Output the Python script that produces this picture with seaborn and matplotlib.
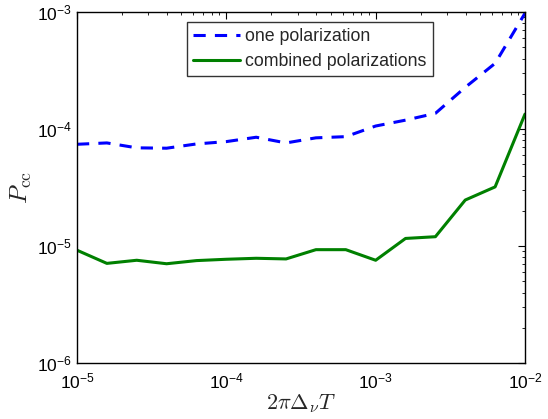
import numpy as np
import pandas as pd
import matplotlib
matplotlib.use("Agg")
import matplotlib.pyplot as plt
import seaborn as sns

x_vals = [1.0e-5, 1.585e-5, 2.512e-5, 3.981e-5, 6.310e-5, 1.0e-4, 1.585e-4, 2.512e-4,
          3.981e-4, 6.310e-4, 1.0e-3, 1.585e-3, 2.512e-3, 3.981e-3, 6.310e-3, 1.0e-2]
one_pol = [7.4e-5, 7.6e-5, 6.9e-5, 6.85e-5, 7.45e-5, 7.8e-5, 8.5e-5, 7.6e-5,
           8.4e-5, 8.6e-5, 1.06e-4, 1.19e-4, 1.36e-4, 2.27e-4, 3.64e-4, 9.75e-4]
comb_pol = [9.2e-6, 7.1e-6, 7.55e-6, 7.05e-6, 7.5e-6, 7.7e-6, 7.85e-6, 7.75e-6,
            9.3e-6, 9.3e-6, 7.55e-6, 1.16e-5, 1.2e-5, 2.47e-5, 3.2e-5, 1.34e-4]
series_names = ["one polarization", "combined polarizations"]

df = pd.DataFrame({
    "x": x_vals * 2,
    "y": one_pol + comb_pol,
    "series": [series_names[0]] * len(x_vals) + [series_names[1]] * len(x_vals),
})

sns.set_style("white")
plt.rcParams["font.family"] = ["Liberation Sans", "DejaVu Sans"]
plt.rcParams["mathtext.fontset"] = "cm"

fig = plt.figure(figsize=(5.48, 4.19), dpi=100)
ax = fig.add_axes([0.1405, 0.1337, 0.8175, 0.8377])

sns.lineplot(data=df[df.series == series_names[0]], x="x", y="y", ax=ax,
             color="#0000ff", linestyle="--", linewidth=2.2, label=series_names[0])
sns.lineplot(data=df[df.series == series_names[1]], x="x", y="y", ax=ax,
             color="#008000", linestyle="-", linewidth=2.2, label=series_names[1])
ax.lines[0].set_dashes([4, 3])

ax.set_xscale("log")
ax.set_yscale("log")
ax.set_xlim(1e-5, 1e-2)
ax.set_ylim(1e-6, 1e-3)

for s in ax.spines.values():
    s.set_color("black")
    s.set_linewidth(1.0)
ax.tick_params(which="both", direction="in", top=True, right=True, colors="black",
               labelsize=12.5)
ax.tick_params(which="major", length=5, width=0.8)
ax.tick_params(which="minor", length=2.5, width=0.6)
ax.tick_params(axis="x", pad=6)

ax.set_xlabel(r"$2\pi\Delta_\nu T$", fontsize=16, labelpad=1)
ax.set_ylabel(r"$P_{\rm cc}$", fontsize=18)
ax.yaxis.set_label_coords(-0.095, 0.5)

leg = ax.legend(loc="upper center", bbox_to_anchor=(0.52, 0.997), fontsize=12.8,
                frameon=True, fancybox=False, handlelength=2.6, borderpad=0.35,
                labelspacing=0.45, handletextpad=0.3)
leg.get_frame().set_edgecolor("black")
leg.get_frame().set_linewidth(1.0)

fig.savefig("out.png", dpi=100)
